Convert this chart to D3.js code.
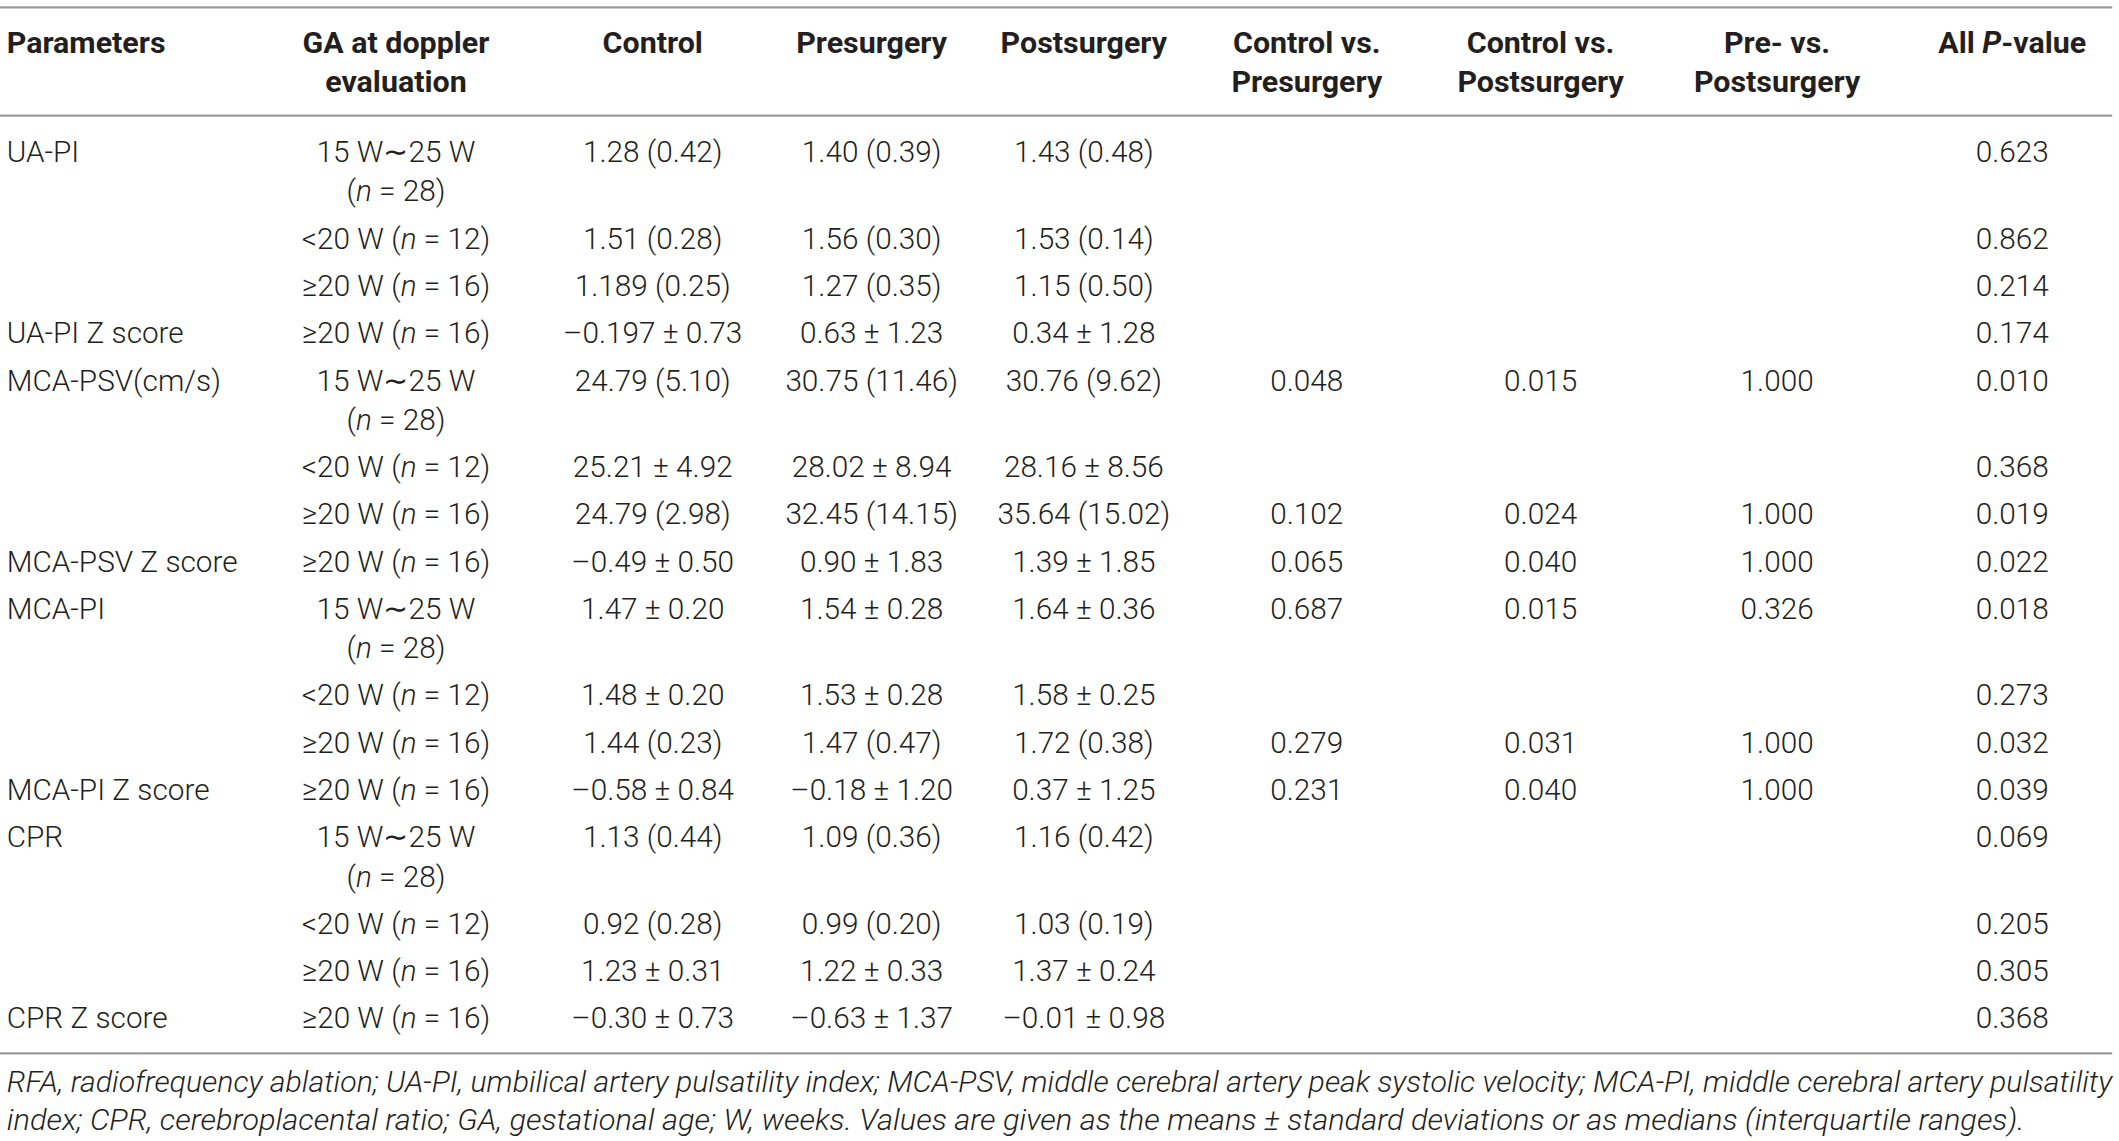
<!DOCTYPE html>
<html>
<head>
<meta charset="utf-8">
<script src="https://cdn.jsdelivr.net/npm/d3@7"></script>
<style>
  html, body { margin: 0; padding: 0; background: #fff; }
  svg { display: block; }
</style>
</head>
<body>
<div id="table"></div>
<script>
// table content
const headers = [
    ["Parameters"],
    ["GA at doppler", "evaluation"],
    ["Control"],
    ["Presurgery"],
    ["Postsurgery"],
    ["Control vs.", "Presurgery"],
    ["Control vs.", "Postsurgery"],
    ["Pre- vs.", "Postsurgery"],
    ["All |P|-value"]
];

const parameters = ["UA-PI", "", "", "UA-PI Z score", "MCA-PSV(cm/s)", "", "", "MCA-PSV Z score",
    "MCA-PI", "", "", "MCA-PI Z score", "CPR", "", "", "CPR Z score"];

const gaLabels = [
    ["15 W\u223C25 W", "(|n| = 28)"], ["<20 W (|n| = 12)"], ["\u226520 W (|n| = 16)"], ["\u226520 W (|n| = 16)"],
    ["15 W\u223C25 W", "(|n| = 28)"], ["<20 W (|n| = 12)"], ["\u226520 W (|n| = 16)"], ["\u226520 W (|n| = 16)"],
    ["15 W\u223C25 W", "(|n| = 28)"], ["<20 W (|n| = 12)"], ["\u226520 W (|n| = 16)"], ["\u226520 W (|n| = 16)"],
    ["15 W\u223C25 W", "(|n| = 28)"], ["<20 W (|n| = 12)"], ["\u226520 W (|n| = 16)"], ["\u226520 W (|n| = 16)"]
];

const control = ["1.28 (0.42)", "1.51 (0.28)", "1.189 (0.25)", "\u20130.197 \u00b1 0.73", "24.79 (5.10)",
    "25.21 \u00b1 4.92", "24.79 (2.98)", "\u20130.49 \u00b1 0.50", "1.47 \u00b1 0.20", "1.48 \u00b1 0.20",
    "1.44 (0.23)", "\u20130.58 \u00b1 0.84", "1.13 (0.44)", "0.92 (0.28)", "1.23 \u00b1 0.31", "\u20130.30 \u00b1 0.73"];

const presurgery = ["1.40 (0.39)", "1.56 (0.30)", "1.27 (0.35)", "0.63 \u00b1 1.23", "30.75 (11.46)",
    "28.02 \u00b1 8.94", "32.45 (14.15)", "0.90 \u00b1 1.83", "1.54 \u00b1 0.28", "1.53 \u00b1 0.28",
    "1.47 (0.47)", "\u20130.18 \u00b1 1.20", "1.09 (0.36)", "0.99 (0.20)", "1.22 \u00b1 0.33", "\u20130.63 \u00b1 1.37"];

const postsurgery = ["1.43 (0.48)", "1.53 (0.14)", "1.15 (0.50)", "0.34 \u00b1 1.28", "30.76 (9.62)",
    "28.16 \u00b1 8.56", "35.64 (15.02)", "1.39 \u00b1 1.85", "1.64 \u00b1 0.36", "1.58 \u00b1 0.25",
    "1.72 (0.38)", "0.37 \u00b1 1.25", "1.16 (0.42)", "1.03 (0.19)", "1.37 \u00b1 0.24", "\u20130.01 \u00b1 0.98"];

const controlVsPre = ["", "", "", "", "0.048", "", "0.102", "0.065", "0.687", "", "0.279", "0.231", "", "", "", ""];
const controlVsPost = ["", "", "", "", "0.015", "", "0.024", "0.040", "0.015", "", "0.031", "0.040", "", "", "", ""];
const preVsPost = ["", "", "", "", "1.000", "", "1.000", "1.000", "0.326", "", "1.000", "1.000", "", "", "", ""];
const allP = ["0.623", "0.862", "0.214", "0.174", "0.010", "0.368", "0.019", "0.022", "0.018", "0.273",
    "0.032", "0.039", "0.069", "0.205", "0.305", "0.368"];

const footnote = [
    "RFA, radiofrequency ablation; UA-PI, umbilical artery pulsatility index; MCA-PSV, middle cerebral artery peak systolic velocity; MCA-PI, middle cerebral artery pulsatility",
    "index; CPR, cerebroplacental ratio; GA, gestational age; W, weeks. Values are given as the means \u00b1 standard deviations or as medians (interquartile ranges)."
];

// layout (drawn in a 1568-wide space, then scaled up to the window)
const W = 1568, H = 1141 * 1568 / 2119;
const textColor = "#231f20", ruleColor = "#9a9a9a";
const bodyFont = "Roboto, 'Liberation Sans', sans-serif";
const fontSize = 22, headSize = 22.5;

const columns = d3.range(headers.length);
const colX = d3.scaleOrdinal()
    .domain(columns)
    .range([5, 293, 483, 645, 802, 967, 1140, 1315, 1489]);

const lineGap = 29, rowStep = 35;
const rowLines = gaLabels.map(g => g.length);
const rowOffsets = [0, ...d3.cumsum(rowLines, n => rowStep + (n - 1) * lineGap)];
const y = d3.scaleLinear().domain([0, 1]).range([120, 121]); // offset from first baseline

const svg = d3.select("#table")
    .append("svg")
    .attr("width", 2119)
    .attr("height", 1141)
    .attr("viewBox", `0 0 ${W} ${H}`)
    .style("font-family", bodyFont)
    .attr("fill", textColor);

// put "|x|" pieces in italics
function richText(sel, str) {
    str.split("|").forEach((part, i) => {
        sel.append("tspan")
            .attr("font-style", i % 2 ? "italic" : null)
            .text(part);
    });
}

// rules
const rules = [5.5, 85.5, 779.5];
svg.selectAll("line.rule")
    .data(rules)
    .join("line")
    .attr("class", "rule")
    .attr("x1", 0)
    .attr("x2", 1563)
    .attr("y1", d => d)
    .attr("y2", d => d)
    .attr("stroke", ruleColor)
    .attr("stroke-width", 1.6);

// header
const head = svg.append("g")
    .attr("font-weight", 700)
    .attr("font-size", headSize);

headers.forEach((lines, c) => {
    lines.forEach((ln, i) => {
        const t = head.append("text")
            .attr("x", colX(c))
            .attr("y", 39 + i * lineGap)
            .attr("text-anchor", c === 0 ? "start" : "middle");
        richText(t, ln);
    });
});

// body
const body = svg.append("g")
    .attr("font-weight", 300)
    .attr("font-size", fontSize);

const cellCols = [control, presurgery, postsurgery, controlVsPre, controlVsPost, preVsPost, allP];

parameters.forEach((p, r) => {
    const base = y(rowOffsets[r]);
    if (p) {
        body.append("text")
            .attr("x", colX(0))
            .attr("y", base)
            .text(p);
    }
    gaLabels[r].forEach((ln, i) => {
        const t = body.append("text")
            .attr("x", colX(1))
            .attr("y", base + i * lineGap)
            .attr("text-anchor", "middle");
        richText(t, ln);
    });
    cellCols.forEach((col, k) => {
        if (!col[r]) return;
        body.append("text")
            .attr("x", colX(k + 2))
            .attr("y", base)
            .attr("text-anchor", "middle")
            .text(col[r]);
    });
});

// footnote, stretched to the widths of the printed lines
const note = svg.append("g")
    .attr("font-weight", 300)
    .attr("font-style", "italic")
    .attr("font-size", 21.5);

const noteWidths = [1558, 1493];
footnote.forEach((ln, i) => {
    note.append("text")
        .attr("x", 5)
        .attr("y", 808 + i * 28)
        .attr("textLength", noteWidths[i])
        .attr("lengthAdjust", "spacingAndGlyphs")
        .text(ln);
});
</script>
</body>
</html>
